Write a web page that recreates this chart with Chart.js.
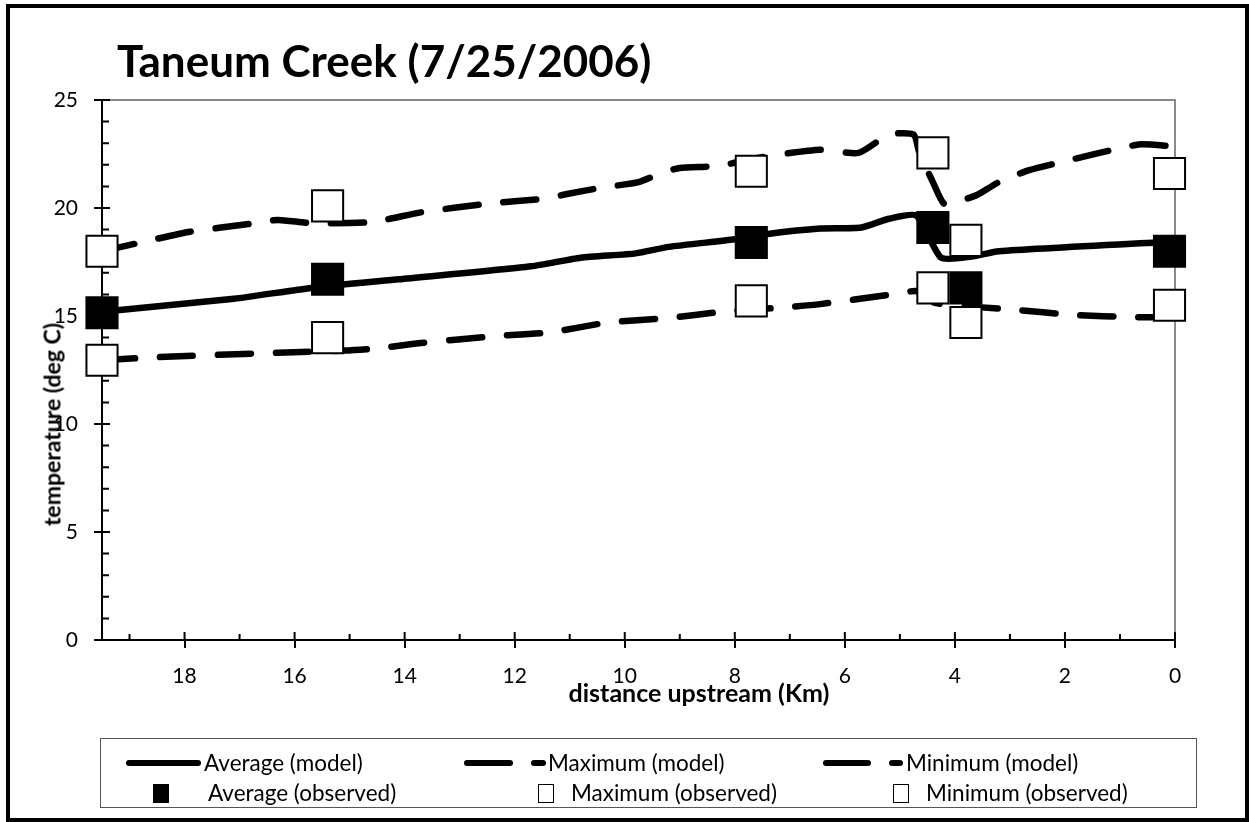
<!DOCTYPE html>
<html>
<head>
<meta charset="utf-8">
<script src="https://cdn.jsdelivr.net/npm/chart.js@4/dist/chart.umd.min.js"></script>
<style>
body{margin:0;background:#fff;}
#wrap{position:relative;width:1249px;height:822px;overflow:hidden;font-family:Lato,"Open Sans",sans-serif;color:#000;}
#chart1{position:absolute;left:0;top:0;}
#marco{position:absolute;left:6px;top:4px;width:1235px;height:810px;border:4px solid #000;pointer-events:none;}
#titulo{position:absolute;left:117px;top:38px;font-size:44px;font-weight:bold;line-height:1;white-space:nowrap;}
#ytitulo{position:absolute;left:-98px;top:413px;width:300px;height:23px;font-size:23px;font-weight:bold;line-height:1;text-align:center;transform:rotate(-90deg);white-space:nowrap;}
#xtitulo{position:absolute;left:449px;top:680px;width:500px;font-size:25px;font-weight:bold;line-height:1;text-align:center;white-space:nowrap;}
#leyenda{position:absolute;left:100px;top:738px;width:1095px;height:68px;border:1.5px solid #555;}
.item{position:absolute;font-size:22.5px;line-height:1;white-space:nowrap;}
.raya{position:absolute;height:6px;background:#000;border-radius:3px;}
.cuadro{position:absolute;width:16px;height:19px;box-sizing:border-box;border:1.5px solid #000;background:#fff;}
</style>
</head>
<body>
<div id="wrap">
  <canvas id="chart1" width="1249" height="822"></canvas>
  <div id="titulo">Taneum Creek (7/25/2006)</div>
  <div id="ytitulo">temperature (deg C)</div>
  <div id="xtitulo">distance upstream (Km)</div>
  <div id="leyenda"></div>
  <div id="marco"></div>
</div>
<script>
// model lines (km upstream, deg C)
var avgModelKm = [19.5, 17.1, 15.7, 14.1, 11.7, 10.8, 9.8, 9.2, 8.0, 7.4, 6.45, 5.7, 5.2, 4.7, 4.25, 3.7, 3.2, 0];
var avgModelT  = [15.2, 15.8, 16.3, 16.7, 17.3, 17.7, 17.9, 18.2, 18.55, 18.8, 19.05, 19.1, 19.5, 19.65, 17.7, 17.75, 18.0, 18.45];

var maxModelKm = [19.5, 18.8, 17.9, 16.7, 16.3, 15.7, 14.6, 13.7, 12.5, 11.4, 11.05, 10.4, 9.75, 9.35, 9.0, 8.3, 7.4, 6.45, 5.75, 5.2, 4.75, 4.65, 4.4, 4.2, 3.95, 3.6, 3.2, 2.65, 1.95, 0.95, 0.6, 0];
var maxModelT  = [18.0, 18.4, 18.9, 19.3, 19.45, 19.3, 19.35, 19.8, 20.2, 20.45, 20.65, 20.95, 21.2, 21.6, 21.85, 21.95, 22.4, 22.7, 22.55, 23.4, 23.4, 22.6, 21.2, 20.2, 20.3, 20.6, 21.2, 21.75, 22.2, 22.8, 22.95, 22.85];

var minModelKm = [19.5, 18.45, 16.3, 15.1, 14.5, 13.7, 12.45, 11.35, 10.3, 9.25, 8.2, 7.1, 6.45, 5.0, 4.7, 4.35, 2.95, 1.85, 0.75, 0];
var minModelT  = [12.95, 13.1, 13.3, 13.4, 13.5, 13.75, 14.05, 14.25, 14.7, 14.9, 15.2, 15.4, 15.55, 16.05, 16.15, 15.6, 15.3, 15.05, 14.95, 14.95];

// observed
var obsKm  = [19.5, 15.4, 7.7, 4.4, 3.8, 0.1];
var obsAvg = [15.15, 16.7, 18.4, 19.1, 16.3, 18.0];
var obsMax = [18.0, 20.1, 21.7, 22.55, 18.5, 21.6];
var obsMin = [12.95, 14.0, 15.7, 16.3, 14.7, 15.5];

var xTicks = [0, 2, 4, 6, 8, 10, 12, 14, 16, 18];
var yTicks = [0, 5, 10, 15, 20, 25];

var etiquetas = ["Average (model)", "Maximum (model)", "Minimum (model)",
                 "Average (observed)", "Maximum (observed)", "Minimum (observed)"];

function puntos(xs, ys){
	return xs.map(function(v, i){ return {x: v, y: ys[i]}; });
}

function linea(label, xs, ys, dash){
	return {
		label: label,
		data: puntos(xs, ys),
		showLine: true,
		borderColor: "#000",
		borderWidth: 6.5,
		borderDash: dash,
		borderCapStyle: "round",
		borderJoinStyle: "round",
		tension: 0.2,
		pointRadius: 0,
		order: 1,
		clip: false
	};
}

function marcas(label, ys, relleno){
	return {
		label: label,
		data: puntos(obsKm, ys),
		showLine: false,
		pointStyle: "rect",
		pointRadius: 22,
		pointBackgroundColor: relleno,
		pointBorderColor: "#000",
		pointBorderWidth: 2,
		order: 0,
		clip: false
	};
}

// inner tick marks, minor ticks and grey frame
var marcasEje = {
	id: "marcasEje",
	beforeDatasetsDraw: function(chart){
		var ctx = chart.ctx, a = chart.chartArea;
		var xs = chart.scales.x, ys = chart.scales.y;
		ctx.save();
		ctx.strokeStyle = "#8a8a8a";
		ctx.lineWidth = 2;
		ctx.beginPath();
		ctx.moveTo(a.left, a.top);
		ctx.lineTo(a.right, a.top);
		ctx.lineTo(a.right, a.bottom - 8);
		ctx.stroke();

		ctx.strokeStyle = "#000";
		ctx.lineWidth = 2;
		ctx.beginPath();
		var v, p;
		for (v = 0; v <= 25; v++){
			p = ys.getPixelForValue(v);
			ctx.moveTo(a.left, p);
			ctx.lineTo(a.left + (v % 5 == 0 ? 8 : 7), p);
		}
		for (v = 0; v <= 19; v++){
			p = xs.getPixelForValue(v);
			ctx.moveTo(p, a.bottom);
			ctx.lineTo(p, a.bottom - (v % 2 == 0 ? 8 : 6));
		}
		ctx.stroke();
		ctx.restore();
	}
};

var fuente = {family: "Lato", size: 21};

var datos = {
	type: "scatter",
	data: {
		datasets: [
			linea(etiquetas[0], avgModelKm, avgModelT, []),
			linea(etiquetas[1], maxModelKm, maxModelT, [33, 25]),
			linea(etiquetas[2], minModelKm, minModelT, [33, 25]),
			marcas(etiquetas[3], obsAvg, "#000"),
			marcas(etiquetas[4], obsMax, "#fff"),
			marcas(etiquetas[5], obsMin, "#fff")
		]
	},
	options: {
		responsive: false,
		animation: false,
		layout: {padding: {left: 42, right: 74, top: 100, bottom: 132}},
		plugins: {legend: {display: false}, title: {display: false}, tooltip: {enabled: false}},
		scales: {
			x: {
				type: "linear",
				reverse: true,
				min: 0,
				max: 19.5,
				afterBuildTicks: function(s){ s.ticks = xTicks.map(function(v){ return {value: v}; }); },
				afterFit: function(s){ s.height = 50; },
				border: {display: true, color: "#000", width: 2},
				grid: {drawOnChartArea: false, drawTicks: true, tickLength: 8, color: "#000", lineWidth: 2},
				ticks: {font: fuente, color: "#000", padding: 16, maxRotation: 0}
			},
			y: {
				type: "linear",
				min: 0,
				max: 25,
				afterBuildTicks: function(s){ s.ticks = yTicks.map(function(v){ return {value: v}; }); },
				afterFit: function(s){ s.width = 60; },
				border: {display: true, color: "#000", width: 2},
				grid: {drawOnChartArea: false, drawTicks: true, tickLength: 8, color: "#000", lineWidth: 2},
				ticks: {font: fuente, color: "#000", padding: 16}
			}
		}
	},
	plugins: [marcasEje]
};

var canvas = document.getElementById("chart1").getContext("2d");
window.grafico = new Chart(canvas, datos);

// legend built from the datasets, 3 columns x 2 rows
function armarLeyenda(){
	var caja = document.getElementById("leyenda");
	var ds = window.grafico.data.datasets;
	var cols = [
		{lin: [25, 100], corto: null, txt: 103, sq: 60, txt2: 107},
		{lin: [363, 412], corto: [430, 445], txt: 447, sq: 445, txt2: 470},
		{lin: [722, 770], corto: [788, 802], txt: 805, sq: 800, txt2: 825}
	];
	var html = "";
	for (var c = 0; c < 3; c++){
		var k = cols[c];
		html += '<div class="raya" style="left:' + k.lin[0] + 'px;top:21px;width:' + (k.lin[1] - k.lin[0]) + 'px"></div>';
		if (k.corto) html += '<div class="raya" style="left:' + k.corto[0] + 'px;top:21px;width:' + (k.corto[1] - k.corto[0]) + 'px"></div>';
		html += '<div class="item" style="left:' + k.txt + 'px;top:13px">' + ds[c].label + '</div>';
		var m = ds[c + 3];
		html += '<div class="cuadro" style="left:' + (k.sq - 8) + 'px;top:45px;background:' + m.pointBackgroundColor + '"></div>';
		html += '<div class="item" style="left:' + k.txt2 + 'px;top:43px">' + m.label + '</div>';
	}
	caja.innerHTML = html;
}
armarLeyenda();
</script>
</body>
</html>
